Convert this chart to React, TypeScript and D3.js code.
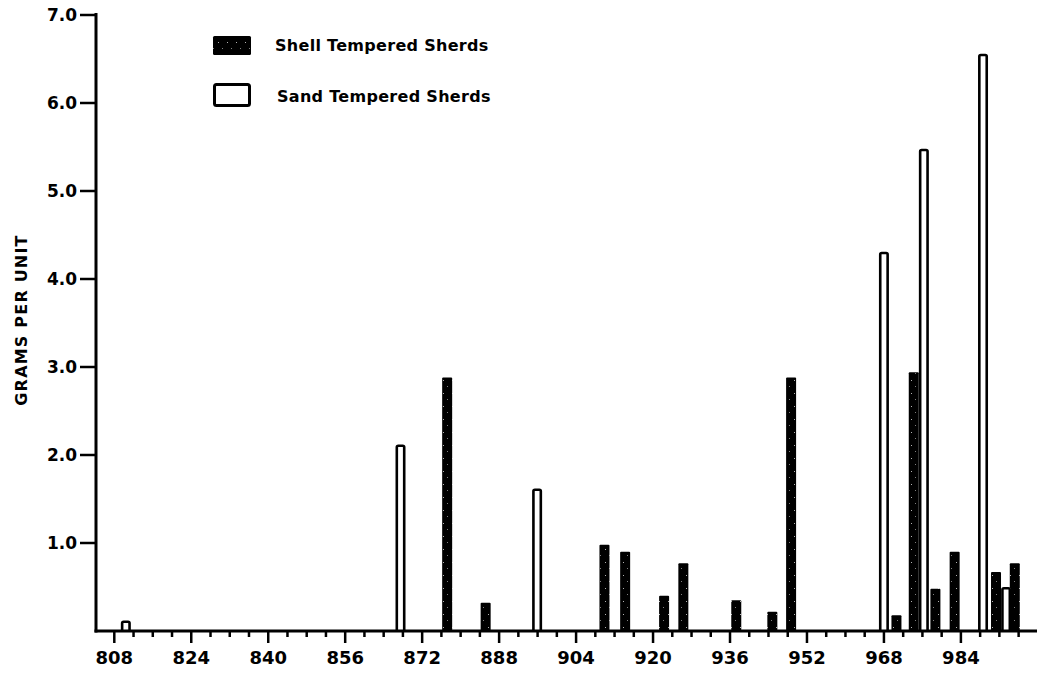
import React from "react";
import * as d3 from "d3";

// Data
const shellUnits = [877.2, 885.2, 909.9, 914.2, 922.3, 926.3, 937.3, 944.8, 948.7, 970.6, 974.2, 978.7, 982.7, 991.3, 995.2];
const shellValues = [2.88, 0.32, 0.98, 0.9, 0.4, 0.77, 0.35, 0.22, 2.88, 0.18, 2.94, 0.48, 0.9, 0.67, 0.77];
const sandUnits = [810.4, 867.5, 895.9, 968.0, 976.3, 988.6, 993.4];
const sandValues = [0.12, 2.12, 1.62, 4.31, 5.48, 6.56, 0.5];
const xTickLabels = [808, 824, 840, 856, 872, 888, 904, 920, 936, 952, 968, 984];
const yTickLabels = ["1.0", "2.0", "3.0", "4.0", "5.0", "6.0", "7.0"];
const legendLabels = ["Shell Tempered Sherds", "Sand Tempered Sherds"];
const yTitle = "GRAMS PER UNIT";

const W = 1037;
const H = 675;
const FONT = "'DejaVu Sans', 'Liberation Sans', sans-serif";

export default function App() {
  const x = d3.scaleLinear().domain([808, 984]).range([114.3, 960.9]);
  const y = d3.scaleLinear().domain([0, 7]).range([631, 15]);
  const axisX = 96;
  const barW = 10;
  const minorTicks = d3.range(808, 1000, 4);

  const sand = sandUnits.map((u, i) => ({ u, v: sandValues[i] }));
  const shell = shellUnits.map((u, i) => ({ u, v: shellValues[i] }));
  const sw = 2.6;

  const openPath = (u: number, v: number) => {
    const x0 = x(u) - barW / 2 + sw / 2;
    const x1 = x(u) + barW / 2 - sw / 2;
    const yt = y(v) + sw / 2;
    const yb = y(0);
    const r = 1.5;
    return `M${x0},${yb} L${x0},${yt + r} Q${x0},${yt} ${x0 + r},${yt} L${x1 - r},${yt} Q${x1},${yt} ${x1},${yt + r} L${x1},${yb}`;
  };

  return (
    <svg width={W} height={H} style={{ position: "absolute", left: 0, top: 0, background: "#fff" }}>
      <defs>
        <pattern id="speckle" width="9" height="13" patternUnits="userSpaceOnUse">
          <rect width="9" height="13" fill="#000" />
          <rect x="2" y="3" width="1" height="1" fill="#fff" opacity="0.7" />
          <rect x="6" y="9" width="1" height="1" fill="#fff" opacity="0.5" />
        </pattern>
      </defs>

      {/* shell bars */}
      {shell.map((d, i) => (
        <rect
          key={"s" + i}
          x={x(d.u) - barW / 2}
          y={y(d.v)}
          width={barW}
          height={y(0) - y(d.v)}
          rx={1}
          fill="url(#speckle)"
        />
      ))}

      {/* sand bars */}
      {sand.map((d, i) => (
        <path key={"o" + i} d={openPath(d.u, d.v)} fill="#fff" stroke="#000" strokeWidth={sw} />
      ))}

      {/* axes */}
      <line x1={axisX} x2={axisX} y1={13} y2={y(0) + 1.5} stroke="#000" strokeWidth={3} />
      <line x1={axisX - 1.5} x2={W} y1={y(0)} y2={y(0)} stroke="#000" strokeWidth={3} />

      {/* y ticks */}
      {yTickLabels.map((t, i) => {
        const v = i + 1;
        return (
          <g key={t}>
            <line x1={80} x2={axisX} y1={y(v)} y2={y(v)} stroke="#000" strokeWidth={2.5} />
            <text x={77} y={y(v)} dy="0.36em" textAnchor="end" fontFamily={FONT} fontWeight="bold" fontSize={17} fill="#000">
              {t}
            </text>
          </g>
        );
      })}

      {/* x ticks */}
      {minorTicks.map((t) => {
        const major = xTickLabels.includes(t);
        return (
          <line key={"t" + t} x1={x(t)} x2={x(t)} y1={y(0)} y2={y(0) + (major ? 12 : 6)} stroke="#000" strokeWidth={2.5} />
        );
      })}
      {xTickLabels.map((t) => (
        <text key={"l" + t} x={x(t)} y={664} textAnchor="middle" fontFamily={FONT} fontWeight="bold" fontSize={18} fill="#000">
          {t}
        </text>
      ))}

      {/* y title */}
      <text
        transform={`translate(27,320) rotate(-90)`}
        textAnchor="middle"
        fontFamily={FONT}
        fontWeight="bold"
        fontSize={16}
        letterSpacing={1.2}
        fill="#000"
      >
        {yTitle}
      </text>

      {/* legend */}
      <rect x={213} y={36} width={38} height={19} rx={1.5} fill="url(#speckle)" />
      <text x={275} y={45} dy="0.36em" fontFamily={FONT} fontWeight="bold" fontSize={16} letterSpacing={0.3} fill="#000">
        {legendLabels[0]}
      </text>
      <rect x={214.5} y={84.5} width={35} height={21} rx={2} fill="#fff" stroke="#000" strokeWidth={3} />
      <text x={277} y={96} dy="0.36em" fontFamily={FONT} fontWeight="bold" fontSize={16} letterSpacing={0.3} fill="#000">
        {legendLabels[1]}
      </text>
    </svg>
  );
}
